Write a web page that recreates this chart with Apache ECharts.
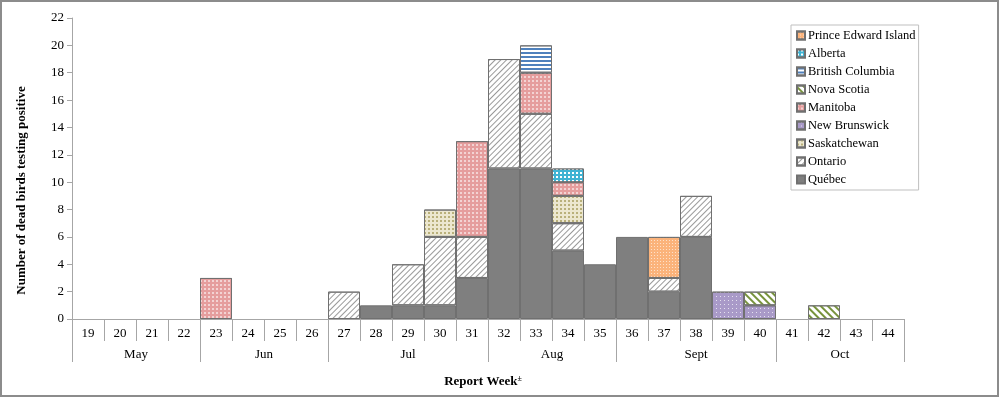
<!DOCTYPE html>
<html>
<head>
<meta charset="utf-8">
<script src="https://cdn.jsdelivr.net/npm/echarts@6/dist/echarts.min.js"></script>
<style>
  html, body { margin: 0; padding: 0; background: #fff; }
  #chart { width: 1000px; height: 398px; }
</style>
</head>
<body>
<div id="chart"></div>
<script>
// report weeks 19..44
const weeks = ['19','20','21','22','23','24','25','26','27','28','29','30','31','32','33','34','35','36','37','38','39','40','41','42','43','44'];
// month groups: label, first week index, number of weeks
const months = ['May', 'Jun', 'Jul', 'Aug', 'Sept', 'Oct'];
const monthStart = [0, 4, 8, 13, 17, 22];
const monthLen = [4, 4, 5, 4, 5, 4];
const yTicks = [0, 2, 4, 6, 8, 10, 12, 14, 16, 18, 20, 22];

// dead birds testing positive by province (stack order bottom -> top)
const quebec       = [0,0,0,0,0,0,0,0,0,1,1,1,3,11,11,5,4,6,2,6,0,0,0,0,0,0];
const ontario      = [0,0,0,0,0,0,0,0,2,0,3,5,3,8,4,2,0,0,1,3,0,0,0,0,0,0];
const saskatchewan = [0,0,0,0,0,0,0,0,0,0,0,2,0,0,0,2,0,0,0,0,0,0,0,0,0,0];
const newBrunswick = [0,0,0,0,0,0,0,0,0,0,0,0,0,0,0,0,0,0,0,0,2,1,0,0,0,0];
const manitoba     = [0,0,0,0,3,0,0,0,0,0,0,0,7,0,3,1,0,0,0,0,0,0,0,0,0,0];
const novaScotia   = [0,0,0,0,0,0,0,0,0,0,0,0,0,0,0,0,0,0,0,0,0,1,0,1,0,0];
const britishCol   = [0,0,0,0,0,0,0,0,0,0,0,0,0,0,2,0,0,0,0,0,0,0,0,0,0,0];
const alberta      = [0,0,0,0,0,0,0,0,0,0,0,0,0,0,0,1,0,0,0,0,0,0,0,0,0,0];
const pei          = [0,0,0,0,0,0,0,0,0,0,0,0,0,0,0,0,0,0,3,0,0,0,0,0,0,0];

const FONT = '"Liberation Serif", "DejaVu Serif", serif';
const AXIS_GRAY = '#a6a6a6';
const BAR_BORDER = '#707070';

// 値0は描かない
const clean = arr => arr.map(v => (v === 0 ? null : v));

// 月の中央位置 (value axis 0..26)
const monthCenter = {};
months.forEach((m, i) => { monthCenter[monthStart[i] + monthLen[i] / 2] = m; });
const monthBoundary = new Set(monthStart);

function bar(name, data, color, decal) {
  return {
    name: name,
    type: 'bar',
    stack: 'birds',
    xAxisIndex: 0,
    barCategoryGap: '0%',
    data: clean(data),
    itemStyle: { color: color, borderColor: BAR_BORDER, borderWidth: 1, decal: decal },
    emphasis: { disabled: true }
  };
}

const series = [
  bar('Québec', quebec, '#7f7f7f', null),
  bar('Ontario', ontario, '#ffffff', { symbol: 'rect', dashArrayX: [1, 0], dashArrayY: [1, 3], rotation: -Math.PI / 4, color: '#999999' }),
  bar('Saskatchewan', saskatchewan, '#ece7cf', { symbol: 'rect', symbolSize: 1, dashArrayX: [2, 2], dashArrayY: [2, 2], color: '#b9b07a' }),
  bar('New Brunswick', newBrunswick, '#a99ac8', { symbol: 'rect', symbolSize: 1, dashArrayX: [1, 3], dashArrayY: [1, 3], color: 'rgba(255,255,255,0.7)' }),
  bar('Manitoba', manitoba, '#e59d9d', { symbol: 'rect', symbolSize: 1, dashArrayX: [2, 2], dashArrayY: [2, 2], color: 'rgba(255,255,255,0.55)' }),
  bar('Nova Scotia', novaScotia, '#ffffff', { symbol: 'rect', dashArrayX: [1, 0], dashArrayY: [2, 2.5], rotation: Math.PI / 4, color: '#77933c' }),
  bar('British Columbia', britishCol, '#ffffff', { symbol: 'rect', dashArrayX: [1, 0], dashArrayY: [1.5, 2], rotation: 0, color: '#4f81bd' }),
  bar('Alberta', alberta, '#3fb3d3', { symbol: 'rect', symbolSize: 1, dashArrayX: [2, 2], dashArrayY: [2, 2], color: '#ffffff' }),
  bar('Prince Edward Island', pei, '#fbb37b', { symbol: 'rect', symbolSize: 1, dashArrayX: [1, 2], dashArrayY: [1, 2], color: 'rgba(255,255,255,0.6)' })
];

const chart = echarts.init(document.getElementById('chart'));
chart.setOption({
  animation: false,
  backgroundColor: '#ffffff',
  graphic: [{
    type: 'rect', silent: true,
    shape: { x: 1, y: 1, width: 997, height: 395 },
    style: { fill: 'none', stroke: '#8c8c8c', lineWidth: 2 }
  }],
  grid: { left: 72, right: 96, top: 18, bottom: 79 },
  legend: {
    orient: 'vertical',
    left: 791, top: 25,
    data: ['Prince Edward Island', 'Alberta', 'British Columbia', 'Nova Scotia', 'Manitoba', 'New Brunswick', 'Saskatchewan', 'Ontario', 'Québec'],
    icon: 'rect',
    itemWidth: 8, itemHeight: 8, itemGap: 3,
    padding: [3, 3, 3, 5],
    borderColor: '#bfbfbf', borderWidth: 1,
    backgroundColor: '#ffffff',
    selectedMode: false,
    textStyle: { fontFamily: FONT, fontSize: 12.5, color: '#000', lineHeight: 15, padding: [0, 0, 0, -2] }
  },
  xAxis: [
    {
      // 週番号
      type: 'category',
      data: weeks,
      position: 'bottom',
      name: 'Report Week{sup|±}',
      nameLocation: 'middle',
      nameGap: 56,
      nameTextStyle: {
        fontFamily: FONT, fontSize: 13, fontWeight: 'bold', color: '#000',
        rich: { sup: { fontFamily: FONT, fontSize: 8, fontWeight: 'bold', verticalAlign: 'top', padding: [0, 0, 6, 0] } },
        padding: [0, 10, 0, 0]
      },
      axisLine: { lineStyle: { color: AXIS_GRAY } },
      axisTick: { show: true, interval: 0, length: 22, alignWithLabel: false, lineStyle: { color: AXIS_GRAY } },
      axisLabel: { interval: 0, margin: 8, fontFamily: FONT, fontSize: 13, color: '#000' },
      splitLine: { show: false }
    },
    {
      // 月の区切り線
      type: 'category',
      data: weeks,
      position: 'bottom',
      axisLine: { show: false },
      axisTick: {
        show: true, length: 43, alignWithLabel: false,
        interval: (idx) => monthBoundary.has(idx),
        lineStyle: { color: AXIS_GRAY }
      },
      axisLabel: { show: false },
      splitLine: { show: false }
    },
    {
      // 月ラベル
      type: 'value',
      min: 0, max: weeks.length, interval: 0.5,
      position: 'bottom',
      axisLine: { show: false },
      axisTick: { show: false },
      splitLine: { show: false },
      axisLabel: {
        margin: 29, fontFamily: FONT, fontSize: 13, color: '#000',
        showMinLabel: true, showMaxLabel: true,
        formatter: v => monthCenter[v] || ''
      }
    }
  ],
  yAxis: {
    type: 'value',
    min: 0, max: 22, interval: 2,
    name: 'Number of dead birds testing positive',
    nameLocation: 'middle',
    nameGap: 44,
    nameTextStyle: { fontFamily: FONT, fontSize: 13, fontWeight: 'bold', color: '#000', padding: [0, 44, 0, 0] },
    axisLine: { show: true, lineStyle: { color: AXIS_GRAY } },
    axisTick: { show: true, length: 5, lineStyle: { color: AXIS_GRAY } },
    axisLabel: { fontFamily: FONT, fontSize: 13, color: '#000', margin: 8, formatter: v => (yTicks.includes(v) ? String(v) : '') },
    splitLine: { show: false }
  },
  series: series
});
</script>
</body>
</html>
